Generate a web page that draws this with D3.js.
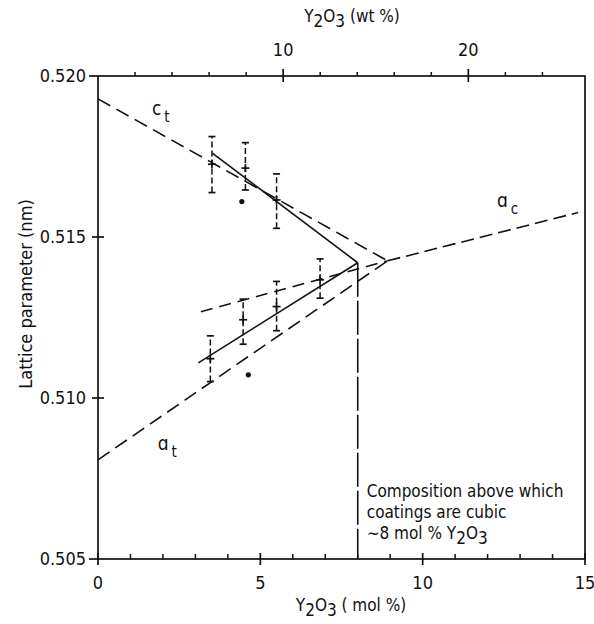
<!DOCTYPE html>
<html>
<head>
<meta charset="utf-8">
<script src="https://cdn.jsdelivr.net/npm/d3@7"></script>
<style>
  body { margin: 0; background: #fff; }
  text { font-family: "DejaVu Sans", sans-serif; font-stretch: condensed; fill: #111; }
</style>
</head>
<body>
<div id="chart"></div>
<script>
// c_t points (mol %, lattice parameter nm, error bar low / high)
var cMol = [3.51, 4.54, 5.50];
var cVal = [0.51726, 0.51714, 0.51615];
var cLow = [0.51638, 0.51646, 0.51527];
var cHigh = [0.51812, 0.51793, 0.51696];

// a_t points
var aMol = [3.46, 4.47, 5.50, 6.84];
var aVal = [0.51122, 0.51243, 0.51284, 0.51367];
var aLow = [0.51051, 0.51167, 0.51209, 0.51310];
var aHigh = [0.51193, 0.51307, 0.51362, 0.51432];

// single dots
var dotMol = [4.43, 4.63];
var dotVal = [0.51610, 0.51072];

// lines
var ctDashed = [[0, 0.51929], [8.92, 0.51426]];
var atDashed = [[0, 0.50808], [8.92, 0.51426]];
var acDashed = [[8.92, 0.51426], [14.79, 0.51576]];
var atUpperDashed = [[3.17, 0.51268], [8.92, 0.51426]];
var ctSolid = [[3.53, 0.51760], [8.0, 0.51420]];
var atSolid = [[3.09, 0.51109], [8.0, 0.51420]];
var cubicLimit = [[8.0, 0.51420], [8.0, 0.505]];

// ticks
var molTicks = [0, 5, 10, 15];
var molMinor = [1, 2, 3, 4, 6, 7, 8, 9, 11, 12, 13, 14];
var wtTicks = [10, 20];
var wtMinor = [2, 4, 6, 8, 12, 14, 16, 18, 22, 24];
var yTicks = [0.505, 0.510, 0.515, 0.520];

var svgWidth = 594, svgHeight = 624;
var svg = d3.select("#chart").append("svg")
  .attr("width", svgWidth)
  .attr("height", svgHeight);

var x = d3.scaleLinear().domain([0, 15]).range([98, 585]);
var xw = d3.scaleLinear().domain([0, 26.3]).range([98, 585]);
var y = d3.scaleLinear().domain([0.505, 0.520]).range([559, 76]);

var line = d3.line().x(d => x(d[0])).y(d => y(d[1]));

// frame
svg.append("rect")
  .attr("x", x(0)).attr("y", y(0.520))
  .attr("width", x(15) - x(0)).attr("height", y(0.505) - y(0.520))
  .attr("fill", "none").attr("stroke", "#111").attr("stroke-width", 1.7);

// bottom ticks
svg.append("g").selectAll("line").data(molMinor).enter().append("line")
  .attr("x1", d => x(d)).attr("x2", d => x(d))
  .attr("y1", y(0.505)).attr("y2", y(0.505) - 5)
  .attr("stroke", "#111").attr("stroke-width", 1.5);
svg.append("g").selectAll("line").data(molTicks).enter().append("line")
  .attr("x1", d => x(d)).attr("x2", d => x(d))
  .attr("y1", y(0.505) - 6).attr("y2", y(0.505) + 6)
  .attr("stroke", "#111").attr("stroke-width", 1.7);
svg.append("g").selectAll("text").data(molTicks).enter().append("text")
  .attr("x", d => x(d)).attr("y", 589)
  .attr("text-anchor", "middle").attr("font-size", 18)
  .text(d => d);

// top ticks
svg.append("g").selectAll("line").data(wtMinor).enter().append("line")
  .attr("x1", d => xw(d)).attr("x2", d => xw(d))
  .attr("y1", y(0.520)).attr("y2", y(0.520) - 4)
  .attr("stroke", "#111").attr("stroke-width", 1.5);
svg.append("g").selectAll("line").data(wtTicks).enter().append("line")
  .attr("x1", d => xw(d)).attr("x2", d => xw(d))
  .attr("y1", y(0.520) - 7).attr("y2", y(0.520) + 6)
  .attr("stroke", "#111").attr("stroke-width", 1.7);
svg.append("g").selectAll("text").data(wtTicks).enter().append("text")
  .attr("x", d => xw(d)).attr("y", 56)
  .attr("text-anchor", "middle").attr("font-size", 18)
  .text(d => d);

// left ticks
svg.append("g").selectAll("line").data(yTicks).enter().append("line")
  .attr("x1", d => (d === 0.520 || d === 0.505) ? x(0) - 9 : x(0) - 6)
  .attr("x2", d => (d === 0.520 || d === 0.505) ? x(0) : x(0) + 6)
  .attr("y1", d => y(d)).attr("y2", d => y(d))
  .attr("stroke", "#111").attr("stroke-width", 1.7);
svg.append("g").selectAll("text").data(yTicks).enter().append("text")
  .attr("x", x(0) - 12).attr("y", d => y(d) + 6)
  .attr("text-anchor", "end").attr("font-size", 18)
  .text(d => d3.format(".3f")(d));

// axis titles
function oxide(t, tail) {
  t.append("tspan").text("Y");
  t.append("tspan").attr("dy", 5).text("2");
  t.append("tspan").attr("dy", -5).text("O");
  t.append("tspan").attr("dy", 5).text("3");
  t.append("tspan").attr("dy", -5).text(tail);
}
oxide(svg.append("text").attr("x", 352).attr("y", 22)
  .attr("text-anchor", "middle").attr("font-size", 17), "  (wt %)");
oxide(svg.append("text").attr("x", 351).attr("y", 611)
  .attr("text-anchor", "middle").attr("font-size", 17), " ( mol %)");

svg.append("text")
  .attr("transform", "translate(32, 294) rotate(-90)")
  .attr("text-anchor", "middle").attr("font-size", 18)
  .text("Lattice parameter (nm)");

// fitted / guide lines
var chart = svg.append("g");
function drawLine(pts, dash) {
  chart.append("path").datum(pts)
    .attr("d", line)
    .attr("fill", "none").attr("stroke", "#111").attr("stroke-width", 1.6)
    .attr("stroke-dasharray", dash);
}
drawLine(ctDashed, "14,7");
drawLine(atDashed, "14,7");
drawLine(acDashed, "13,6");
drawLine(atUpperDashed, "12,7");
drawLine(ctSolid, null);
drawLine(atSolid, null);
drawLine(cubicLimit, "34,4");

// error bars + markers
function drawPoints(mol, val, low, high) {
  var g = chart.append("g");
  mol.forEach(function(m, i) {
    g.append("line")
      .attr("x1", x(m)).attr("x2", x(m))
      .attr("y1", y(low[i])).attr("y2", y(high[i]))
      .attr("stroke", "#111").attr("stroke-width", 1.5)
      .attr("stroke-dasharray", "6,3");
    [low[i], high[i]].forEach(function(v) {
      g.append("line")
        .attr("x1", x(m) - 3.5).attr("x2", x(m) + 3.5)
        .attr("y1", y(v)).attr("y2", y(v))
        .attr("stroke", "#111").attr("stroke-width", 1.7);
    });
    g.append("line")
      .attr("x1", x(m) - 4).attr("x2", x(m) + 4)
      .attr("y1", y(val[i])).attr("y2", y(val[i]))
      .attr("stroke", "#111").attr("stroke-width", 1.7);
    g.append("line")
      .attr("x1", x(m)).attr("x2", x(m))
      .attr("y1", y(val[i]) - 4).attr("y2", y(val[i]) + 4)
      .attr("stroke", "#111").attr("stroke-width", 1.7);
  });
}
drawPoints(cMol, cVal, cLow, cHigh);
drawPoints(aMol, aVal, aLow, aHigh);

chart.append("g").selectAll("circle").data(dotMol).enter().append("circle")
  .attr("cx", d => x(d)).attr("cy", (d, i) => y(dotVal[i]))
  .attr("r", 2.6).attr("fill", "#111");

// curve labels
function curveLabel(px, py, main, sub) {
  var t = svg.append("text").attr("x", px).attr("y", py).attr("font-size", 19);
  t.append("tspan").text(main);
  t.append("tspan").attr("dy", 7).attr("dx", 3).attr("font-size", 15).text(sub);
}
curveLabel(x(1.66), y(0.51879), "c", "t");
curveLabel(x(1.84), y(0.50838), "ɑ", "t");
curveLabel(x(12.29), y(0.51593), "ɑ", "c");

// annotation
var note = svg.append("text").attr("font-size", 17);
note.append("tspan").attr("x", x(8) + 9).attr("y", 497).text("Composition above which");
note.append("tspan").attr("x", x(8) + 9).attr("y", 518).text("coatings are cubic");
var note2 = svg.append("text").attr("x", x(8) + 9).attr("y", 539).attr("font-size", 17);
note2.append("tspan").text("∼8 mol % Y");
note2.append("tspan").attr("dy", 5).text("2");
note2.append("tspan").attr("dy", -5).text("O");
note2.append("tspan").attr("dy", 5).text("3");
</script>
</body>
</html>
